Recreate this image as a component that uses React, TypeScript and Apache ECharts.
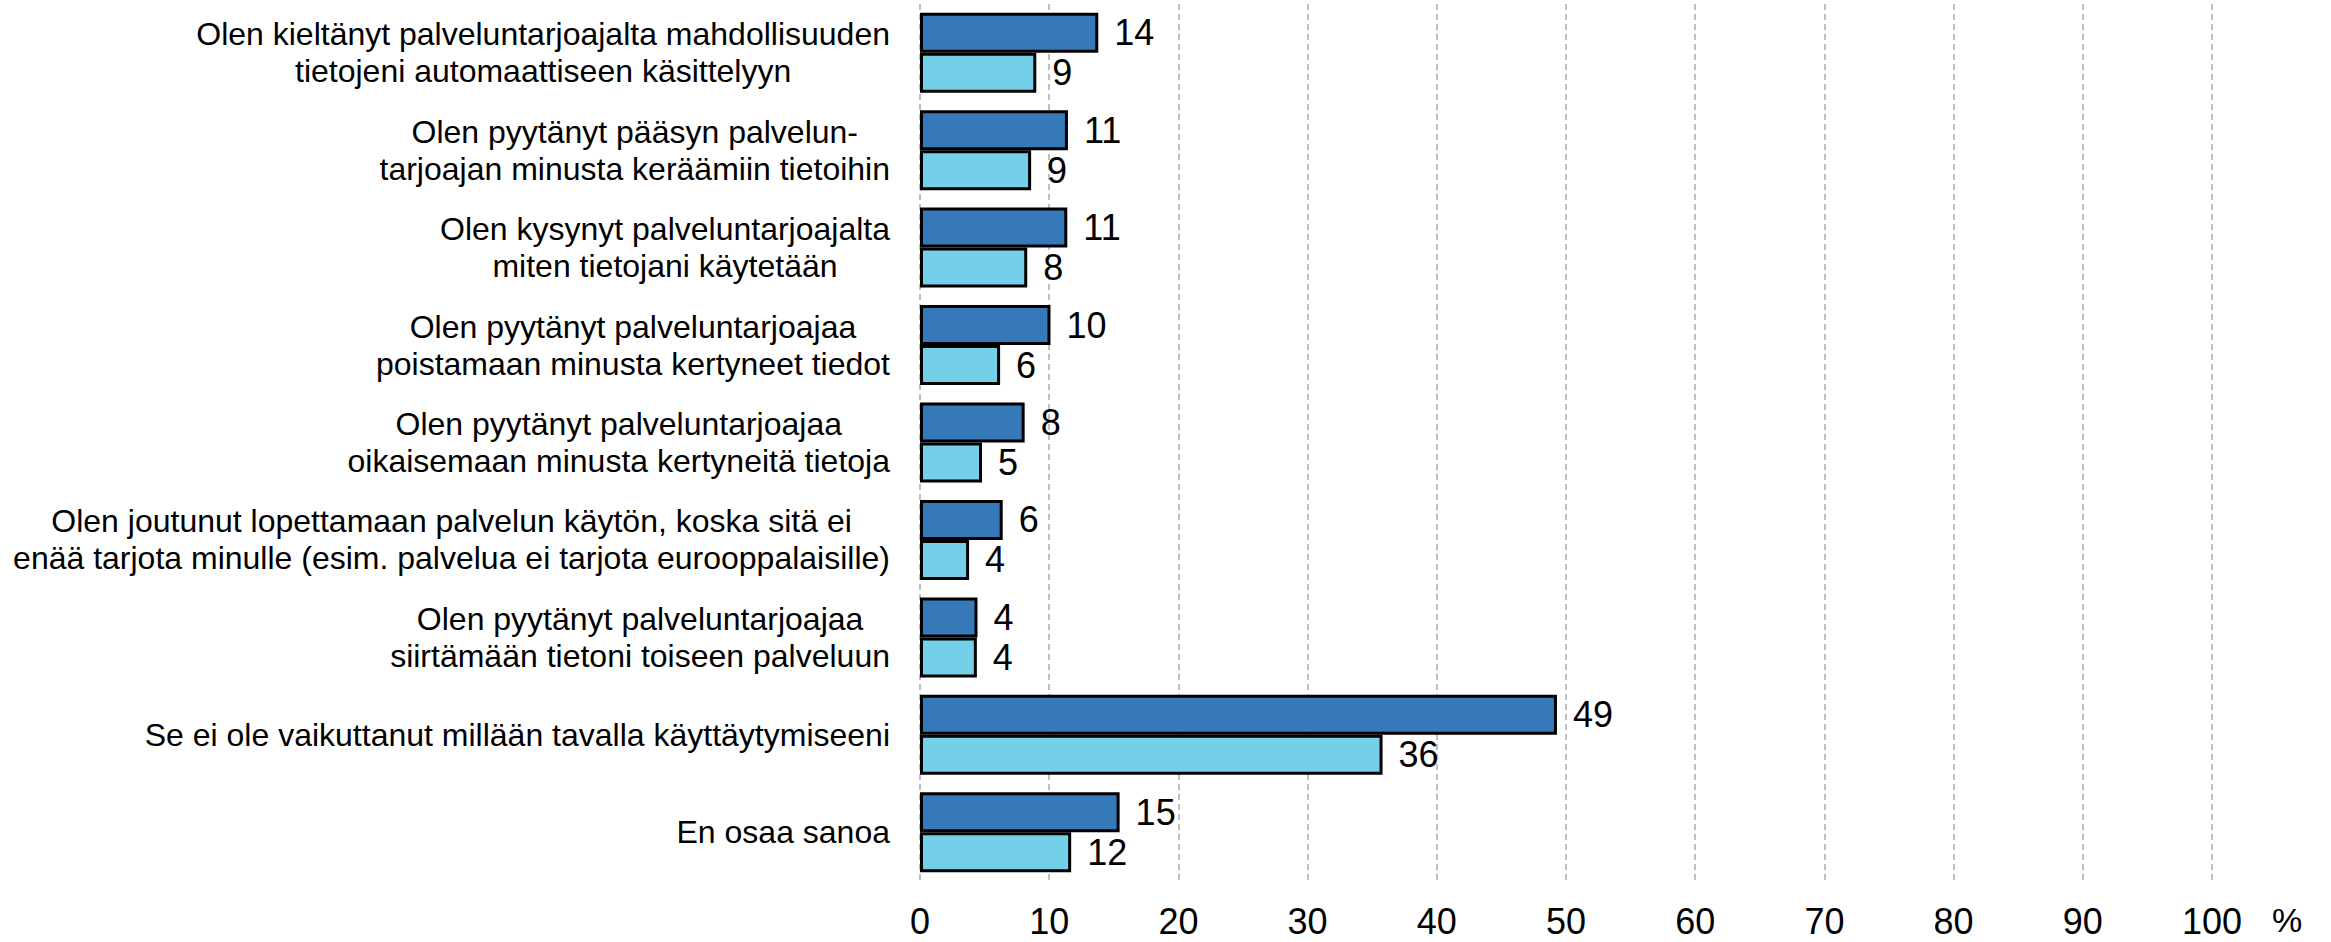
import React, { useEffect, useRef } from "react";
import * as echarts from "echarts";

const categories: string[][] = [
  ["Olen kieltänyt palveluntarjoajalta mahdollisuuden", "tietojeni automaattiseen käsittelyyn"],
  ["Olen pyytänyt pääsyn palvelun-", "tarjoajan minusta keräämiin tietoihin"],
  ["Olen kysynyt palveluntarjoajalta", "miten tietojani käytetään"],
  ["Olen pyytänyt palveluntarjoajaa", "poistamaan minusta kertyneet tiedot"],
  ["Olen pyytänyt palveluntarjoajaa", "oikaisemaan minusta kertyneitä tietoja"],
  ["Olen joutunut lopettamaan palvelun käytön, koska sitä ei", "enää tarjota minulle (esim. palvelua ei tarjota eurooppalaisille)"],
  ["Olen pyytänyt palveluntarjoajaa", "siirtämään tietoni toiseen palveluun"],
  ["Se ei ole vaikuttanut millään tavalla käyttäytymiseeni"],
  ["En osaa sanoa"],
];

const seriesDark: number[] = [13.8, 11.45, 11.4, 10.1, 8.1, 6.4, 4.45, 49.3, 15.45];
const seriesLight: number[] = [9.0, 8.6, 8.3, 6.2, 4.8, 3.8, 4.4, 35.8, 11.7];

const xMin = 0;
const xMax = 100;
const xInterval = 10;
const axisUnit = "%";

const FONT = "'Liberation Sans', Arial, sans-serif";

export default function App() {
  const ref = useRef<HTMLDivElement>(null);

  useEffect(() => {
    if (!ref.current) return;
    const chart = echarts.init(ref.current, undefined, { renderer: "svg" });
    const catKeys = categories.map((_, i) => String(i));
    const labelStyle = {
      show: true,
      position: "right" as const,
      distance: 16,
      fontSize: 36,
      color: "#000",
      fontFamily: FONT,
      formatter: (p: any) => String(Math.round(p.value)),
    };
    chart.setOption({
      animation: false,
      backgroundColor: "#fff",
      textStyle: { fontFamily: FONT },
      grid: { left: 920, right: 119, top: 4, bottom: 61, containLabel: false },
      xAxis: {
        type: "value",
        min: xMin,
        max: xMax,
        interval: xInterval,
        name: axisUnit,
        nameLocation: "end",
        nameGap: 60,
        nameTextStyle: {
          fontSize: 34,
          lineHeight: 34,
          color: "#000",
          fontFamily: FONT,
          verticalAlign: "top",
          padding: [22, 0, 0, 0],
        },
        axisLine: { show: false },
        axisTick: { show: false },
        axisLabel: {
          fontSize: 36,
          lineHeight: 33,
          color: "#000",
          margin: 24,
          fontFamily: FONT,
        },
        splitLine: {
          show: true,
          lineStyle: { color: "#aaaaaa", width: 1.5, type: [6, 4] },
        },
      },
      yAxis: {
        type: "category",
        inverse: true,
        data: catKeys,
        axisLine: { show: false },
        axisTick: { show: false },
        axisLabel: {
          margin: 30,
          align: "right",
          fontSize: 32,
          lineHeight: 37,
          color: "#000",
          fontFamily: FONT,
          formatter: (v: string) =>
            categories[Number(v)].map((l) => `{c|${l}}`).join("\n"),
          rich: {
            c: {
              align: "center",
              fontSize: 32,
              lineHeight: 37,
              color: "#000",
              fontFamily: FONT,
            },
          },
        },
        splitLine: { show: false },
      },
      series: [
        {
          type: "bar",
          data: seriesDark,
          barWidth: 40,
          barGap: "0%",
          itemStyle: { color: "#3679b8", borderColor: "#000", borderWidth: 3 },
          label: labelStyle,
        },
        {
          type: "bar",
          data: seriesLight,
          barWidth: 40,
          barGap: "0%",
          itemStyle: { color: "#74cfe8", borderColor: "#000", borderWidth: 3 },
          label: labelStyle,
        },
      ],
    });
    return () => chart.dispose();
  }, []);

  return (
    <div
      ref={ref}
      style={{ position: "fixed", left: 0, top: 0, width: 2331, height: 942 }}
    />
  );
}
